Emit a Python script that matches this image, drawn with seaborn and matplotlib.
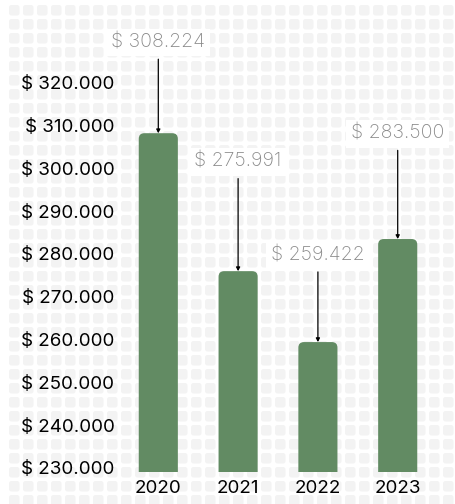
import matplotlib
matplotlib.use('Agg')
import matplotlib.pyplot as plt
import seaborn as sns
import pandas as pd
from matplotlib.patches import FancyBboxPatch

# dados
anos = ['2020', '2021', '2022', '2023']
valores = [308224, 275991, 259422, 283500]
rotulos = ['$ 308.224', '$ 275.991', '$ 259.422', '$ 283.500']
# altura dos rotulos (em valor do eixo y)
pos_rotulo = [329400, 301500, 279700, 308100]
ticks_y = [230000, 240000, 250000, 260000, 270000, 280000, 290000, 300000, 310000, 320000]

df = pd.DataFrame({'ano': anos, 'valor': valores})

sns.set_style('white')
plt.rcParams['font.family'] = ['Inter', 'DejaVu Sans']

W, H = 455, 504
fig = plt.figure(figsize=(W / 100, H / 100), dpi=100)
fig.patch.set_facecolor('white')

# fundo com quadradinhos (eixo em pixels, atras de tudo)
bg = fig.add_axes([0, 0, 1, 1], zorder=-1)
bg.set_xlim(0, W)
bg.set_ylim(H, 0)
bg.axis('off')
passo = 14
lado = 10.5
y0 = 5
while y0 < H:
    x0 = 9
    while x0 < W:
        bg.add_patch(FancyBboxPatch((x0, y0), lado, lado,
                                    boxstyle='round,pad=0,rounding_size=2.5',
                                    facecolor='#f3f3f3', edgecolor='none'))
        x0 += passo
    y0 += passo

ax = fig.add_axes([120 / W, (H - 472) / H, (440 - 120) / W, (472 - 18) / H])
ax.patch.set_alpha(0)

sns.barplot(data=df, x='ano', y='valor', color='#628b63', width=0.49, saturation=1, ax=ax)

# cantos arredondados no topo
for p in list(ax.patches):
    x, w, h = p.get_x(), p.get_width(), p.get_height()
    p.remove()
    ax.add_patch(FancyBboxPatch((x, 200000), w, h - 200000,
                                boxstyle='round,pad=0,rounding_size=0.07',
                                mutation_aspect=18700,
                                facecolor='#628b63', edgecolor='none', zorder=2))

ax.set_ylim(229065, 335140)
ax.set_xlim(-0.48, 3.53)
ax.set_yticks(ticks_y)
ax.set_yticklabels(['$ ' + f'{t:,}'.replace(',', '.') for t in ticks_y])
ax.tick_params(axis='both', labelsize=13.5, length=0, colors='black')
ax.tick_params(axis='y', pad=4)
ax.tick_params(axis='x', pad=6)
ax.set_xlabel('')
ax.set_ylabel('')
for s in ax.spines.values():
    s.set_visible(False)

for i, (v, r, py) in enumerate(zip(valores, rotulos, pos_rotulo)):
    ax.annotate(r, xy=(i, v), xytext=(i, py), ha='center', va='center',
                fontsize=14, color='#8a8a8a', fontweight='light',
                bbox=dict(boxstyle='square,pad=0.25', fc='white', ec='none'),
                arrowprops=dict(arrowstyle='-|>,head_length=0.15,head_width=0.08',
                                color='black', lw=0.9, shrinkA=2, shrinkB=0),
                zorder=5)

fig.savefig('out.png', dpi=100)
